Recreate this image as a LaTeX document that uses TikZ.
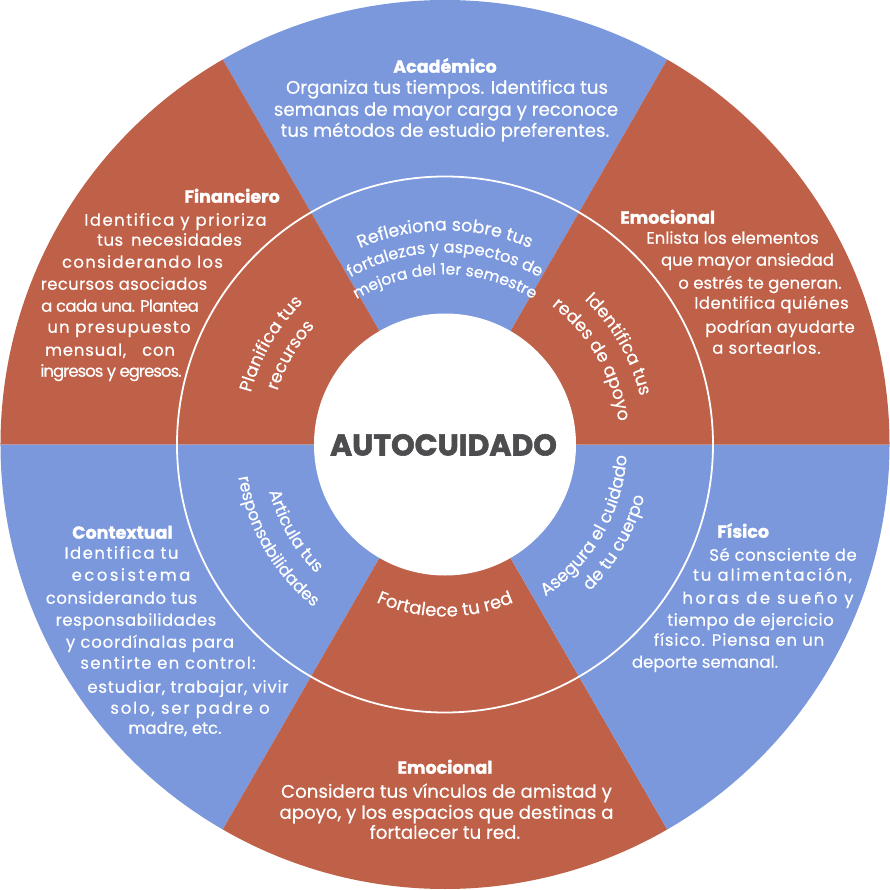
\documentclass[tikz,border=0pt]{standalone}
\usepackage{fontspec}
\setmainfont{Poppins}
\usetikzlibrary{decorations.text}
\definecolor{wblue}{RGB}{123,152,221}
\definecolor{wred}{RGB}{191,96,72}
\definecolor{wgray}{RGB}{77,77,79}
\newcommand{\rf}[1]{\fontsize{#1}{20}\selectfont\addfontfeature{FakeBold=0.4}}
\newcommand{\lsp}[2]{{\addfontfeature{LetterSpace=#1}#2}}
\begin{document}
\begin{tikzpicture}[x=1pt,y=1pt,
  body/.style={text=white,font=\fontsize{16.5}{21}\selectfont\addfontfeature{FakeBold=0.4},anchor=mid,inner sep=0pt},
  bigbody/.style={body,font=\fontsize{18.2}{21}\selectfont\addfontfeature{FakeBold=0.4}},
  head/.style={text=white,font=\fontsize{17.5}{20}\selectfont\bfseries\addfontfeature{FakeBold=1.5},anchor=mid,inner sep=0pt},
  ringtext/.style 2 args={decorate,decoration={text along path,text align=center,text color=white,text={|\rf{#1}|#2}}}]
\useasboundingbox (-445,-444.5) rectangle (445,444.5);
% wedges
\def\R{444.5}
\fill[wblue] (0,0) -- (60:\R) arc[start angle=60,end angle=120,radius=\R] -- cycle;
\fill[wred]  (0,0) -- (120:\R) arc[start angle=120,end angle=180,radius=\R] -- cycle;
\fill[wblue] (0,0) -- (180:\R) arc[start angle=180,end angle=240,radius=\R] -- cycle;
\fill[wred]  (0,0) -- (240:\R) arc[start angle=240,end angle=300,radius=\R] -- cycle;
\fill[wblue] (0,0) -- (300:\R) arc[start angle=300,end angle=360,radius=\R] -- cycle;
\fill[wred]  (0,0) -- (0:\R) arc[start angle=0,end angle=60,radius=\R] -- cycle;
% ring line and centre disc
\draw[white,line width=1.8pt] (0,0) circle[radius=268];
\fill[white] (0,0) circle[radius=131];
\node[font=\fontsize{30}{32}\selectfont\bfseries\addfontfeature{FakeBold=2},text=wgray,anchor=base,inner sep=0pt] (auto) at (-1.5,-11) {AUTOCUIDADO};
% ring texts
\path[ringtext={17.5}{Reflexiona sobre tus}] (160:214) arc[start angle=160,end angle=20,radius=214];
\path[ringtext={16.2}{fortalezas y aspectos de}] (160:192) arc[start angle=160,end angle=20,radius=192];
\path[ringtext={15.6}{mejora del 1er semestre}] (160:170) arc[start angle=160,end angle=20,radius=170];
\path[ringtext={17.5}{Identifica tus}] (100:201) arc[start angle=100,end angle=-40,radius=201];
\path[ringtext={17.5}{redes de apoyo}] (100:175) arc[start angle=100,end angle=-40,radius=175];
\path[ringtext={17.5}{Planifica tus}] (220:201) arc[start angle=220,end angle=80,radius=201];
\path[ringtext={17.5}{recursos}] (220:176) arc[start angle=220,end angle=80,radius=176];
\path[ringtext={17}{Articula tus}] (140:182) arc[start angle=140,end angle=280,radius=182];
\path[ringtext={16.6}{responsabilidades}] (140:209) arc[start angle=140,end angle=280,radius=209];
\path[ringtext={17.3}{Asegura el cuidado}] (260:182) arc[start angle=260,end angle=400,radius=182];
\path[ringtext={17.3}{de tu cuerpo}] (260:206) arc[start angle=260,end angle=400,radius=206];
\path[ringtext={18}{Fortalece tu red}] (200:172) arc[start angle=200,end angle=340,radius=172];
% Academico
\node[head] (acat) at (0,374.5) {Académico};
\node[bigbody] (aca1) at (2,353.5) {Organiza tus tiempos. Identifica tus};
\node[bigbody] (aca2) at (1,331.5) {semanas de mayor carga y reconoce};
\node[bigbody] (aca3) at (0,310.5) {tus métodos de estudio preferentes.};
% Emocional (upper right)
\node[head,anchor=mid west] (emot) at (175,223.5) {Emocional};
\node[body] (emo1) at (287.5,203.5) {Enlista los elementos};
\node[body] (emo2) at (302.5,181.5) {que mayor ansiedad};
\node[body] (emo3) at (315,158.5) {o estrés te generan.};
\node[body] (emo4) at (326.5,138.5) {\lsp{3}{Identifica quiénes}};
\node[body] (emo5) at (335,114.5) {\lsp{2}{podrían ayudarte}};
\node[body] (emo6) at (321.5,93.5) {\lsp{4}{a sortearlos.}};
% Financiero
\node[head,anchor=mid east] (fint) at (-165,244.5) {Financiero};
\node[body] (fin1) at (-269.5,221.5) {\lsp{9}{Identifica y prioriza}};
\node[body] (fin2) at (-275.5,201.5) {\makebox[145pt][s]{\addfontfeature{LetterSpace=3}tus necesidades}};
\node[body] (fin3) at (-302.5,179.5) {\lsp{8}{considerando los}};
\node[body] (fin4) at (-321,157.5) {\lsp{2}{recursos asociados}};
\node[body] (fin5) at (-325,135.5) {\lsp{-4}{a cada una. Plantea}};
\node[body] (fin6) at (-326,114.5) {\lsp{7}{un presupuesto}};
\node[body] (fin7) at (-335,91.5) {\makebox[130pt][s]{\addfontfeature{LetterSpace=5}mensual, con}};
\node[body] (fin8) at (-334,70.5) {\lsp{-6}{ingresos y egresos.}};
% Contextual
\node[head,anchor=mid west] (cont) at (-373,-91.5) {Contextual};
\node[body] (con1) at (-323.5,-111.5) {\lsp{9}{Identifica tu}};
\node[body] (con2) at (-314,-133.5) {\lsp{15}{ecosistema}};
\node[body] (con3) at (-323.5,-156.5) {\lsp{3}{considerando tus}};
\node[body] (con4) at (-309,-178.5) {\lsp{3}{responsabilidades}};
\node[body] (con5) at (-295,-200.5) {\lsp{5}{y coordínalas para}};
\node[body] (con6) at (-277,-221.5) {\lsp{8}{sentirte en control:}};
\node[body] (con7) at (-257,-245.5) {\lsp{5}{estudiar, trabajar, vivir}};
\node[body] (con8) at (-255,-266.5) {\lsp{11}{solo, ser padre o}};
\node[body] (con9) at (-270,-286.5) {madre, etc.};
% Fisico
\node[head,anchor=mid west] (fist) at (272,-90.5) {Físico};
\node[body] (fis1) at (338,-113.5) {\lsp{3}{Sé consciente de}};
\node[body] (fis2) at (327.5,-133.5) {\lsp{11}{tu alimentación,}};
\node[body] (fis3) at (323,-156.5) {\lsp{15}{horas de sueño y}};
\node[body] (fis4) at (305.5,-178.5) {\lsp{3}{tiempo de ejercicio}};
\node[body] (fis5) at (294,-198.5) {\lsp{5}{físico. Piensa en un}};
\node[body] (fis6) at (260,-220.5) {deporte semanal.};
% Emocional (bottom)
\node[head] (embt) at (0,-326.5) {Emocional};
\node[bigbody] (emb1) at (1.5,-350.5) {Considera tus vínculos de amistad y};
\node[bigbody] (emb2) at (1.5,-371.5) {apoyo, y los espacios que destinas a};
\node[bigbody] (emb3) at (0,-391.5) {fortalecer tu red.};
\end{tikzpicture}
\end{document}
